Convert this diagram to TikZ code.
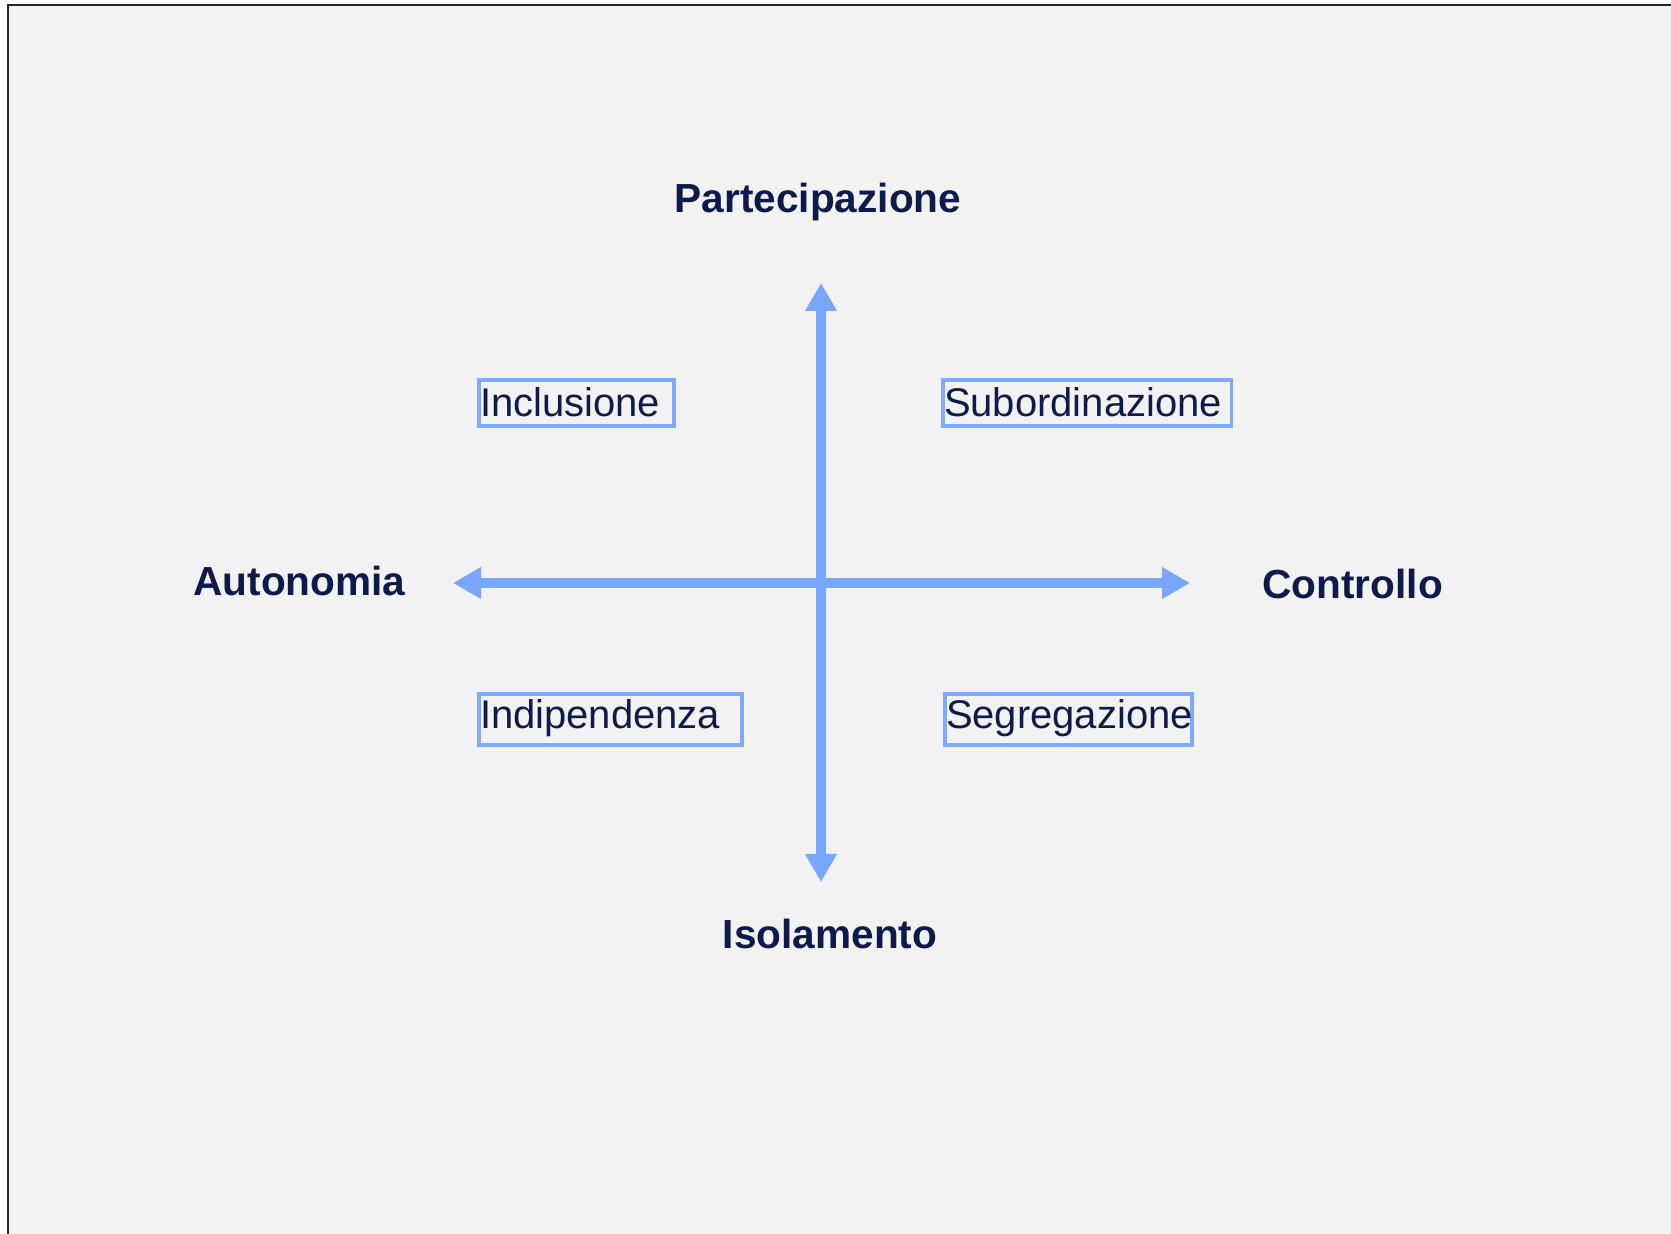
\documentclass[tikz,border=0pt]{standalone}
\usepackage{fontspec}
\setmainfont{Liberation Sans}
\usetikzlibrary{arrows.meta}
\definecolor{bgc}{HTML}{F2F2F2}
\definecolor{axc}{HTML}{78A7FF}
\definecolor{boxc}{HTML}{7DAAFF}
\definecolor{navy}{HTML}{0E1A4A}
\begin{document}
\begin{tikzpicture}[x=0.5pt,y=-0.5pt,
  axis/.style={draw=axc,line width=5pt,{Triangle[length=14pt,width=15pt]}-{Triangle[length=14pt,width=15pt]}},
  pole/.style={text=navy,font=\fontsize{20.3}{24}\selectfont\bfseries,inner sep=0pt,anchor=base},
  qbox/.style={draw=boxc,line width=1.8pt,text=navy,font=\fontsize{20}{24}\selectfont,
    inner xsep=0.6pt,inner ysep=0pt,align=left,anchor=north west},
  qtop/.style={qbox,text height=18.5pt,text depth=4.5pt},
  qbot/.style={qbox,text height=17.5pt,text depth=8pt}]
\useasboundingbox (0,0) rectangle (1671,1234);
\fill[white] (0,0) rectangle (1671,1234);
\fill[bgc] (8,5) rectangle (1671,1234);
\draw[line width=1pt,black!85] (8,1234) -- (8,5) -- (1671,5);
% axis ends
\coordinate (L) at (453,583);
\coordinate (R) at (1190,583);
\coordinate (T) at (821,283);
\coordinate (B) at (821,882);
\draw[axis] (L) -- (R);
\draw[axis] (T) -- (B);
% pole labels
\node[pole] (part) at (818,213) {Partecipazione};
\node[pole] (iso) at (830,948) {Isolamento};
\node[pole,anchor=base west] (auto) at (193,596) {Autonomia};
\node[pole,anchor=base west] (contr) at (1262,599) {Controllo};
% quadrant boxes
\node[qtop,text width=96.5pt] (incl) at (477,378) {Inclusione};
\node[qtop,text width=143.2pt] (sub) at (941,378) {Subordinazione};
\node[qbot,text width=130.3pt] (indip) at (477,692) {Indipendenza};
\node[qbot,text width=122.3pt] (segr) at (943,692) {Segregazione};
\end{tikzpicture}
\end{document}
